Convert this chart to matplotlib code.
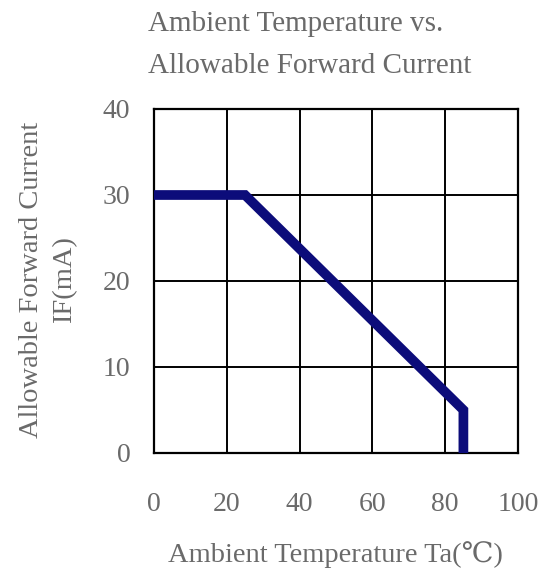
import numpy as np
from matplotlib import pyplot as plt

# derating curve
temps = [0, 25, 85, 85]
current = [30, 30, 5, 0]
xticks = [0, 20, 40, 60, 80, 100]
yticks = [0, 10, 20, 30, 40]

grey = '#6a6a6a'
serif = ['Liberation Serif', 'DejaVu Serif']
plt.rcParams['font.family'] = serif

fig = plt.figure(figsize=(5.42, 5.71), dpi=100)
ax = fig.add_axes([154/542, 1-453/571, 364/542, 344/571])

ax.plot(temps, current, color='#0c0c7a', linewidth=7, solid_joinstyle='miter',
        solid_capstyle='butt', zorder=3)

ax.set_xlim(0, 100)
ax.set_ylim(0, 40)
ax.set_xticks(xticks)
ax.set_yticks(yticks)
ax.grid(True, color='black', linewidth=1.4)
for s in ax.spines.values():
    s.set_color('black')
    s.set_linewidth(1.6)
ax.tick_params(length=0, labelsize=20, labelcolor=grey)
ax.tick_params(axis='x', pad=28)
ax.tick_params(axis='y', pad=17)

fig.text(148/542, 1-24/571, "Ambient Temperature vs.", fontsize=21, color=grey,
         ha='left', va='center')
fig.text(148/542, 1-66/571, "Allowable Forward Current", fontsize=21, color=grey,
         ha='left', va='center')

fig.text(48/542, 1-280/571, "Allowable Forward Current\nIF(mA)", fontsize=20.5,
         color=grey, rotation=90, ha='center', va='center', linespacing=1.45)
fig.text(335/542, 1-555/571, "Ambient Temperature Ta(\u2103)", fontsize=20.5,
         color=grey, ha='center', va='center')

fig.savefig('out.png', dpi=100)
